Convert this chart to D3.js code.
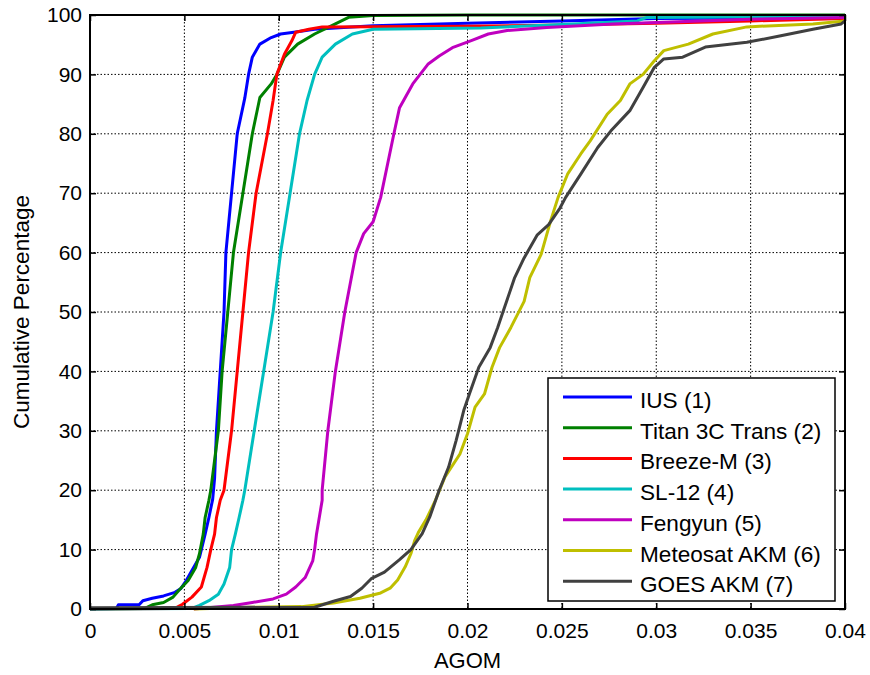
<!DOCTYPE html>
<html>
<head>
<meta charset="utf-8">
<script src="https://cdn.jsdelivr.net/npm/d3@7"></script>
<style>
  body { margin: 0; background: #fff; }
  svg text { font-family: Arial, "Liberation Sans", sans-serif; fill: #000; }
</style>
</head>
<body>
<div id="chart"></div>
<script>
// tick values
const xTicks = [0, 0.005, 0.01, 0.015, 0.02, 0.025, 0.03, 0.035, 0.04];
const yTicks = [0, 10, 20, 30, 40, 50, 60, 70, 80, 90, 100];

const seriesNames = ['IUS (1)', 'Titan 3C Trans (2)', 'Breeze-M (3)', 'SL-12 (4)',
  'Fengyun (5)', 'Meteosat AKM (6)', 'GOES AKM (7)'];
const seriesColors = ['#0000ff', '#008000', '#ff0000', '#00bfbf', '#bf00bf', '#bfbf00', '#404040'];

// cumulative curves: [AGOM, percent]
const ius = [[0, 0], [0.0014, 0.1], [0.0015, 0.7], [0.0026, 0.7], [0.0028, 1.4], [0.0033, 1.8],
  [0.0039, 2.2], [0.0045, 2.8], [0.0048, 3.4], [0.0051, 4.8], [0.0054, 6.5], [0.0058, 8.7],
  [0.0059, 10], [0.0061, 12.6], [0.0063, 15.4], [0.0065, 18.5], [0.0066, 22], [0.0067, 30],
  [0.0069, 40], [0.0071, 50], [0.0072, 60], [0.0075, 70], [0.0078, 80], [0.0082, 86],
  [0.0084, 90], [0.0086, 92.9], [0.009, 95.1], [0.0096, 96.2], [0.0101, 96.8], [0.0108, 97.1],
  [0.0119, 97.6], [0.015, 98.2], [0.02, 98.6], [0.025, 99], [0.03, 99.4], [0.04, 99.6]];
const titan = [[0, 0], [0.0029, 0.1], [0.0033, 0.7], [0.0039, 1.1], [0.0044, 2], [0.0047, 3.1],
  [0.0052, 4.8], [0.0056, 7], [0.0058, 9.3], [0.006, 12.6], [0.0061, 15.4], [0.0063, 18.3],
  [0.0064, 20], [0.0068, 30], [0.007, 40], [0.0073, 50], [0.0076, 60], [0.0081, 70],
  [0.0086, 80], [0.009, 86.1], [0.0096, 88.4], [0.0099, 90], [0.0103, 92.9], [0.011, 95.1],
  [0.0119, 96.8], [0.013, 98.5], [0.0137, 99.6], [0.015, 99.9], [0.02, 100], [0.04, 100]];
const breeze = [[0, 0], [0.0045, 0.1], [0.0049, 0.8], [0.0054, 2], [0.0059, 3.7], [0.0062, 7],
  [0.0064, 10], [0.0066, 12.6], [0.0067, 15.4], [0.0069, 18.3], [0.0071, 20], [0.0075, 30],
  [0.0078, 40], [0.0081, 50], [0.0084, 60], [0.0088, 70], [0.0094, 80], [0.0097, 85.6],
  [0.0099, 90], [0.0103, 93.4], [0.0107, 95.7], [0.0109, 97.1], [0.0116, 97.6], [0.0123, 98],
  [0.02, 98.1], [0.025, 98.3], [0.03, 98.6], [0.035, 99], [0.04, 99.4]];
const sl12 = [[0, 0], [0.0054, 0.1], [0.0058, 0.6], [0.0063, 1.4], [0.0068, 2.5], [0.0071, 4.2],
  [0.0074, 7], [0.0075, 10], [0.0077, 12.6], [0.0079, 15.4], [0.0081, 18.3], [0.0082, 20],
  [0.0087, 30], [0.0092, 40], [0.0097, 50], [0.0101, 60], [0.0106, 70], [0.0111, 80],
  [0.0115, 85.6], [0.0119, 90], [0.0123, 92.9], [0.013, 95.1], [0.0139, 96.8], [0.015, 97.6],
  [0.0207, 97.8], [0.025, 98.4], [0.029, 99], [0.0295, 99.6], [0.04, 99.8]];
const fengyun = [[0.0055, 0], [0.0076, 0.6], [0.0086, 1.1], [0.0097, 1.7], [0.0104, 2.5],
  [0.0109, 3.7], [0.0114, 5.3], [0.0118, 8.1], [0.0119, 10], [0.012, 12.6], [0.0123, 18.3],
  [0.0123, 20], [0.0126, 30], [0.013, 40], [0.0135, 50], [0.0141, 60], [0.0145, 63.2],
  [0.015, 65.2], [0.0154, 69.3], [0.0161, 80], [0.0164, 84.4], [0.0171, 88.4], [0.0179, 91.7],
  [0.0185, 93.1], [0.0192, 94.5], [0.0202, 95.7], [0.0211, 96.8], [0.0221, 97.4],
  [0.0242, 97.9], [0.0277, 98.5], [0.035, 99.3], [0.04, 99.6]];
const meteosat = [[0.0055, 0], [0.0085, 0.3], [0.0112, 0.4], [0.0129, 1], [0.0143, 1.8],
  [0.0154, 2.7], [0.0159, 3.5], [0.0163, 4.9], [0.0167, 7.1], [0.017, 9.3], [0.0172, 11.5],
  [0.0174, 12.9], [0.0178, 15], [0.0183, 18.3], [0.0188, 22.2], [0.0196, 26.1], [0.02, 29.5],
  [0.0204, 34], [0.0209, 36.2], [0.0213, 40.7], [0.0217, 44], [0.0223, 47.4], [0.023, 51.8],
  [0.0233, 55.8], [0.0239, 59.7], [0.0244, 65.3], [0.0248, 69.3], [0.0253, 73.2],
  [0.026, 76.6], [0.0265, 78.8], [0.0274, 83.3], [0.0281, 85.6], [0.0286, 88.4],
  [0.0293, 90], [0.0299, 92.3], [0.0304, 94], [0.0317, 95.1], [0.033, 96.8], [0.0348, 98],
  [0.0383, 98.5], [0.04, 99]];
const goes = [[0, 0.2], [0.0119, 0.3], [0.0129, 1.3], [0.0138, 2.1], [0.0144, 3.5],
  [0.0149, 5.1], [0.0156, 6.2], [0.0164, 8.3], [0.017, 10], [0.0176, 12.7], [0.018, 15.5],
  [0.0185, 20], [0.019, 23.9], [0.0194, 28.4], [0.0198, 33.4], [0.0201, 36.2], [0.0206, 40.7],
  [0.0212, 44], [0.0216, 47.4], [0.0219, 50.2], [0.0225, 55.8], [0.023, 59.1], [0.0237, 63],
  [0.0243, 64.7], [0.0249, 67.5], [0.0252, 69.3], [0.026, 73.2], [0.0269, 77.7],
  [0.0276, 80.5], [0.0286, 83.9], [0.0293, 87.8], [0.0299, 91.2], [0.0304, 92.6],
  [0.0314, 92.9], [0.0326, 94.6], [0.0348, 95.4], [0.0366, 96.5], [0.0383, 97.6],
  [0.0398, 98.5], [0.04, 99]];

const allSeries = [ius, titan, breeze, sl12, fengyun, meteosat, goes];

const width = 870, height = 675;
const margin = {left: 90, top: 15, right: 25, bottom: 66};
const plotW = width - margin.left - margin.right;
const plotH = height - margin.top - margin.bottom;

const svg = d3.select('#chart').append('svg')
  .attr('width', width)
  .attr('height', height);

const x = d3.scaleLinear().domain([0, 0.04]).range([0, plotW]);
const y = d3.scaleLinear().domain([0, 100]).range([plotH, 0]);

const g = svg.append('g')
  .attr('transform', 'translate(' + margin.left + ',' + margin.top + ')');

// dotted grid
g.append('g').selectAll('line')
  .data(xTicks.slice(1, -1))
  .enter().append('line')
  .attr('x1', d => x(d)).attr('x2', d => x(d))
  .attr('y1', 0).attr('y2', plotH)
  .attr('stroke', '#000').attr('stroke-width', 1)
  .attr('stroke-dasharray', '1.5,2');
g.append('g').selectAll('line')
  .data(yTicks.slice(1, -1))
  .enter().append('line')
  .attr('x1', 0).attr('x2', plotW)
  .attr('y1', d => y(d)).attr('y2', d => y(d))
  .attr('stroke', '#000').attr('stroke-width', 1)
  .attr('stroke-dasharray', '1.5,2');

// curves
const line = d3.line()
  .x(d => x(d[0]))
  .y(d => y(d[1]));

g.append('g').selectAll('path')
  .data(allSeries)
  .enter().append('path')
  .attr('d', line)
  .attr('fill', 'none')
  .attr('stroke', (d, i) => seriesColors[i])
  .attr('stroke-width', 3)
  .attr('stroke-linejoin', 'round');

// axes with inward ticks, matlab box style
const fmtX = d => d === 0 ? '0' : d3.format('')(+d.toFixed(3));
const axisB = d3.axisBottom(x).tickValues(xTicks).tickSize(-6).tickPadding(14)
  .tickFormat(fmtX);
const axisT = d3.axisTop(x).tickValues(xTicks).tickSize(-6).tickFormat('');
const axisL = d3.axisLeft(y).tickValues(yTicks).tickSize(-6).tickPadding(8);
const axisR = d3.axisRight(y).tickValues(yTicks).tickSize(-6).tickFormat('');

function styleAxis(sel) {
  sel.select('.domain').attr('stroke', '#000').attr('stroke-width', 2);
  sel.selectAll('.tick line').attr('stroke', '#000').attr('stroke-width', 1.5);
  sel.selectAll('text').attr('font-size', 21);
}

g.append('g').attr('transform', 'translate(0,' + plotH + ')').call(axisB).call(styleAxis);
g.append('g').call(axisT).call(styleAxis);
g.append('g').call(axisL).call(styleAxis);
g.append('g').attr('transform', 'translate(' + plotW + ',0)').call(axisR).call(styleAxis);
g.selectAll('.domain').attr('d', null);
g.append('rect')
  .attr('width', plotW).attr('height', plotH)
  .attr('fill', 'none').attr('stroke', '#000').attr('stroke-width', 2);

// axis titles
svg.append('text')
  .attr('x', margin.left + plotW / 2)
  .attr('y', 668)
  .attr('text-anchor', 'middle')
  .attr('font-size', 22)
  .text('AGOM');
svg.append('text')
  .attr('transform', 'translate(29,' + (margin.top + plotH / 2) + ') rotate(-90)')
  .attr('text-anchor', 'middle')
  .attr('font-size', 22.5)
  .text('Cumulative Percentage');

// legend
const legend = svg.append('g').attr('transform', 'translate(548,378)');
legend.append('rect')
  .attr('width', 287).attr('height', 223)
  .attr('fill', '#fff').attr('stroke', '#000').attr('stroke-width', 1.5);
const rows = legend.selectAll('g.row')
  .data(seriesNames)
  .enter().append('g')
  .attr('class', 'row')
  .attr('transform', (d, i) => 'translate(0,' + (19 + i * 30.7) + ')');
rows.append('line')
  .attr('x1', 15).attr('x2', 84)
  .attr('stroke', (d, i) => seriesColors[i])
  .attr('stroke-width', 3);
rows.append('text')
  .attr('x', 92)
  .attr('y', 11)
  .attr('font-size', 22.6)
  .text(d => d);
</script>
</body>
</html>
